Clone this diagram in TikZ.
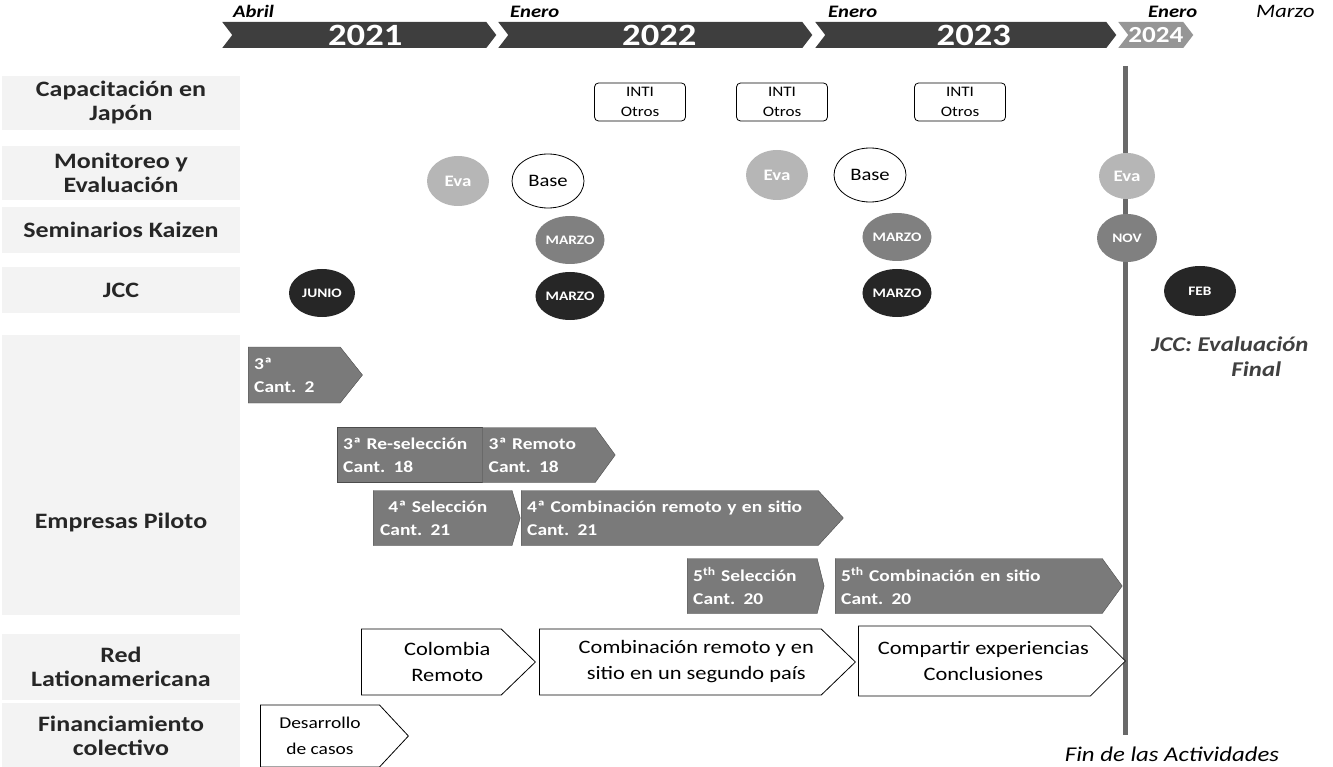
\documentclass[tikz,border=0pt]{standalone}
\usepackage{fontspec}
\setmainfont{Carlito}[FakeStretch=1.18]
\usepackage{tikz}
\usetikzlibrary{shapes.geometric, shapes.symbols, positioning}
\definecolor{bardark}{RGB}{62, 62, 62}
\definecolor{barlight}{RGB}{150, 150, 150}
\definecolor{labelbg}{RGB}{243, 243, 243}
\definecolor{evagray}{RGB}{182, 182, 182}
\definecolor{semgray}{RGB}{128, 128, 128}
\definecolor{jccdark}{RGB}{38, 38, 38}
\definecolor{pilotgray}{RGB}{122, 122, 122}
\definecolor{endgray}{RGB}{105, 105, 105}
\tikzstyle{yearbar} = [signal, signal from=west, signal to=east, signal pointer angle=105, minimum height=26pt, inner sep=0pt, fill=bardark, text=white, font=\bfseries\fontsize{31}{31}\selectfont, anchor=west]
\tikzstyle{month} = [anchor=base west, inner sep=0pt, font=\bfseries\itshape\fontsize{17.5}{18}\selectfont]
\tikzstyle{rowlabel} = [rectangle, fill=labelbg, minimum width=238pt, align=center, text=black!85, font=\bfseries\fontsize{22}{24}\selectfont]
\tikzstyle{training} = [rectangle, rounded corners=4pt, draw=black, thick, minimum width=91pt, minimum height=38pt, inner sep=1pt, align=center, font=\fontsize{14.5}{20}\selectfont]
\tikzstyle{eva} = [ellipse, fill=evagray, minimum width=62pt, minimum height=50pt, inner sep=0pt, text=white, font=\bfseries\fontsize{16}{16}\selectfont]
\tikzstyle{base} = [ellipse, draw=black, thick, fill=white, minimum width=72pt, minimum height=54pt, inner sep=0pt, font=\fontsize{17.5}{17.5}\selectfont]
\tikzstyle{seminar} = [ellipse, fill=semgray, minimum width=66pt, minimum height=48pt, inner sep=0pt, text=white, font=\bfseries\fontsize{13}{13}\selectfont]
\tikzstyle{jcc} = [ellipse, fill=jccdark, minimum width=66pt, minimum height=48pt, inner sep=0pt, text=white, font=\bfseries\fontsize{13}{13}\selectfont]
\tikzstyle{pilot} = [signal, signal to=east, fill=pilotgray, draw=black!70, minimum height=56pt, inner xsep=6pt, inner ysep=0pt, align=left, text=white, anchor=west, font=\bfseries\fontsize{16.5}{23}\selectfont]
\tikzstyle{network} = [signal, signal to=east, signal pointer angle=88, draw=black, thick, fill=white, minimum height=66pt, inner sep=0pt, align=center, anchor=west, font=\fontsize{19}{26}\selectfont]
\tikzstyle{endbar} = [line width=5pt, draw=endgray]

\begin{document}
\begin{tikzpicture}[x=1pt, y=-1pt]
    \useasboundingbox (0,0) rectangle (1333,767);

    % Row labels
    \node (capjapon) [rowlabel, minimum height=54pt] at (121,103) {Capacitación en \\ Japón};
    \node (monitoreo) [rowlabel, minimum height=54pt] at (121,173) {Monitoreo y \\ Evaluación};
    \node (seminarios) [rowlabel, minimum height=46pt] at (121,230) {Seminarios Kaizen};
    \node (jcclabel) [rowlabel, minimum height=46pt] at (121,290) {JCC};
    \node (empresas) [rowlabel, minimum height=280pt, text height=106pt, text depth=0pt] at (121,475) {Empresas Piloto};
    \node (redlat) [rowlabel, minimum height=66pt] at (121,667) {Red \\ Lationamericana};
    \node (financ) [rowlabel, minimum height=66pt] at (121,736) {Financiamiento \\ colectivo};

    % Year bar
    \node (y2021) [yearbar, minimum width=274pt] at (232,35) {\hspace*{12pt}2021};
    \node (y2022) [yearbar, minimum width=314pt] at (508,35) {\hspace*{8pt}2022};
    \node (y2023) [yearbar, minimum width=301pt] at (825,35) {\hspace*{16pt}2023};
    \node (y2024) [yearbar, minimum width=67pt, fill=barlight, font=\bfseries\fontsize{23}{23}\selectfont] at (1128,35) {2024};
    \node (abril) [month] at (233,18) {Abril};
    \node (enero1) [month] at (510,18) {Enero};
    \node (enero2) [month] at (828,18) {Enero};
    \node (enero3) [month] at (1148,18) {Enero};
    \node (marzo) [month, font=\itshape\fontsize{19}{19}\selectfont] at (1256,18) {Marzo};

    % End of activities
    \coordinate (endtop) at (1125,66);
    \coordinate (endbot) at (1125,735);
    \draw [endbar] (endtop) -- (endbot);

    % Training in Japan
    \node (inti1) [training] at (640,102) {INTI \\ Otros};
    \node (inti2) [training] at (782,102) {INTI \\ Otros};
    \node (inti3) [training] at (960,102) {INTI \\ Otros};

    % Monitoring and evaluation
    \node (eva1) [eva] at (458,181) {Eva};
    \node (base1) [base] at (548,181) {Base};
    \node (eva2) [eva] at (777,175) {Eva};
    \node (base2) [base] at (870,175) {Base};
    \node (eva3) [eva, minimum width=56pt, minimum height=46pt] at (1127,176) {Eva};

    % Kaizen seminars
    \node (sem1) [seminar] at (570,240) {MARZO};
    \node (sem2) [seminar] at (897,237) {MARZO};
    \node (sem3) [seminar, minimum width=60pt] at (1127,238) {NOV};

    % JCC
    \node (jcc1) [jcc] at (322,293) {JUNIO};
    \node (jcc2) [jcc] at (570,296) {MARZO};
    \node (jcc3) [jcc] at (897,293) {MARZO};
    \node (jcc4) [jcc, minimum width=72pt, minimum height=50pt] at (1200,291) {FEB};
    \node (jccfinal) [anchor=north east, align=right, text=black!75, font=\bfseries\itshape\fontsize{21}{25}\selectfont] at (1312,333) {JCC: Evaluación \\ Final\hspace*{1.3em}};

    % Pilot companies
    \node (p3a) [pilot, signal pointer angle=103, minimum width=110pt, text width=80pt] at (248,375) {3ª \\ Cant. 2};
    \node (p3b) [pilot, shape=rectangle, minimum width=145pt, minimum height=55pt, text width=133pt] at (337,455) {3ª Re-selección \\ Cant. 18};
    \node (p3c) [pilot, signal pointer angle=108, minimum width=133pt, minimum height=55pt, text width=100pt] at (482,455) {3ª Remoto \\ Cant. 18};
    \node (p4a) [pilot, signal pointer angle=147, minimum width=147pt, minimum height=55pt, text width=125pt] at (373,518) {\hspace*{0.5em}4ª Selección \\ Cant. 21};
    \node (p4b) [pilot, signal pointer angle=95, minimum width=317pt, minimum height=55pt, text width=285pt] at (521,518) {4ª Combinación remoto y en sitio \\ Cant. 21};
    \node (p5a) [pilot, signal pointer angle=152, minimum width=135pt, minimum height=55pt, text width=118pt] at (687,586) {5\textsuperscript{th} Selección \\ Cant. 20};
    \node (p5b) [pilot, signal pointer angle=108, minimum width=280pt, minimum height=55pt, text width=255pt] at (835,586) {5\textsuperscript{th} Combinación en sitio \\ Cant. 20};

    % Latin American network
    \node (colombia) [network, minimum width=174pt] at (361,662) {\hspace*{32pt}Colombia \\ \hspace*{32pt}Remoto};
    \node (combina) [network, minimum width=316pt] at (539,662) {\hspace*{32pt}Combinación remoto y en \\ \hspace*{32pt}sitio en un segundo país};
    \node (compartir) [network, minimum width=267pt, minimum height=70pt, signal pointer angle=90] at (858,661) {\hspace*{18pt}Compartir experiencias \\ \hspace*{18pt}Conclusiones};

    % Collective funding
    \node (casos) [network, minimum width=148pt, minimum height=62pt, signal pointer angle=94, font=\fontsize{16.5}{26}\selectfont] at (260,736) {Desarrollo \\ de casos};

    \node (finact) [anchor=base, font=\itshape\fontsize{21}{21}\selectfont] at (1172,761) {Fin de las Actividades};
\end{tikzpicture}
\end{document}
